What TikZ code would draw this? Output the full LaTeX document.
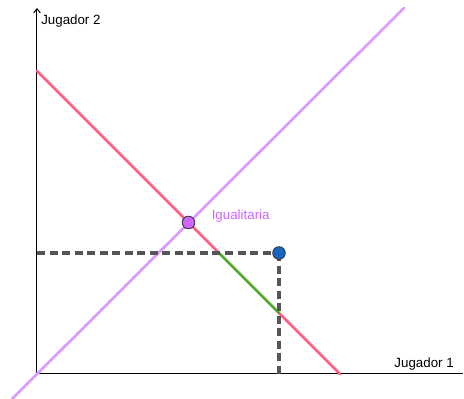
\documentclass[tikz,border=0pt]{standalone}
\usepackage{fontspec}
\setmainfont{Liberation Sans}
\usetikzlibrary{arrows.meta,positioning,calc}
\definecolor{gbred}{HTML}{FF5C80}
\definecolor{gbpurple}{HTML}{D99BFF}
\definecolor{gbgreen}{HTML}{4FA82A}
\definecolor{gbblue}{HTML}{1565C0}
\definecolor{gbviolet}{HTML}{CC66FF}
\definecolor{gbgray}{HTML}{555555}
\begin{document}
\begin{tikzpicture}[
  x=0.75pt, y=0.75pt,
  axis/.style={line width=0.75pt, black},
  curve/.style={line width=2pt, line cap=round},
  guide/.style={line width=2.5pt, gbgray, dash pattern=on 6pt off 3.4pt},
  dot/.style={
    circle, draw=black!80, line width=0.6pt, inner sep=0pt,
    minimum size=9.5pt
  },
  lbl/.style={inner sep=0pt, font=\fontsize{10}{12}\selectfont},
]
  \useasboundingbox (-37,-25) rectangle (427,374);

  % Axes
  \coordinate (O) at (0,0);
  \coordinate (xend) at (426,0);
  \coordinate (yend) at (0,366);
  \draw[axis] (O) -- (xend);
  \draw[axis, -{Straight Barb[length=3pt,width=5pt]}] (O) -- (yend);
  \node[lbl, anchor=west] (ylab) at (4,353) {Jugador 2};
  \node[lbl, anchor=east] (xlab) at (417,10) {Jugador 1};

  % Key points
  \coordinate (dlo) at (-25,-25);
  \coordinate (dhi) at (367,366);
  \coordinate (rtop) at (0,303);
  \coordinate (rbot) at (303,0);
  \coordinate (gtop) at (182,121);
  \coordinate (gbot) at (242,61);
  \coordinate (hy) at (0,121);
  \coordinate (vx) at (242,0);

  % Frontier and diagonal
  \draw[curve, gbred] (rtop) -- (gtop);
  \draw[curve, gbred] (gbot) -- (rbot);
  \draw[curve, gbgreen] (gtop) -- (gbot);
  \draw[curve, gbpurple] (dlo) -- (dhi);

  % Disagreement guides
  \draw[guide] (hy) -- (242,121);
  \draw[guide] (242,121) -- (vx);

  % Points
  \node[dot, fill=gbblue] (dis) at (242,121) {};
  \node[dot, fill=gbviolet] (eq) at (151.5,151.5) {};
  \node[lbl, text=gbviolet, anchor=west] (eqlbl) at ($(eq)+(23,6)$) {Igualitaria};
\end{tikzpicture}
\end{document}
